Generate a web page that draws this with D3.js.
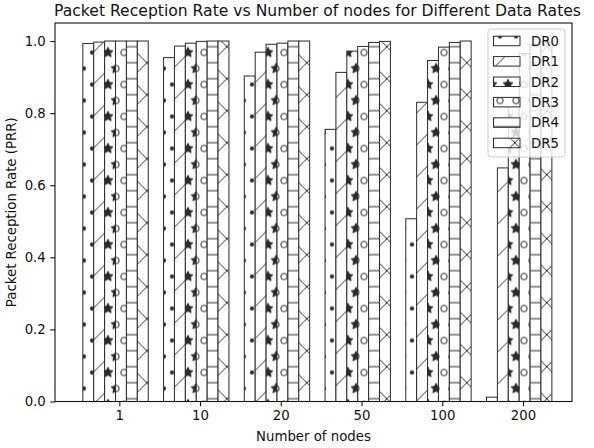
<!DOCTYPE html>
<html><head><meta charset="utf-8">
<script src="https://cdn.jsdelivr.net/npm/d3@7"></script>
<style>body{margin:0;background:#fff}svg{display:block;font-family:"DejaVu Sans",sans-serif}</style>
</head><body><svg id="c" width="594" height="448"></svg>
<script>
const categories = ["1", "10", "20", "50", "100", "200"];
const seriesNames = ["DR0", "DR1", "DR2", "DR3", "DR4", "DR5"];
const dr0 = [0.993, 0.954, 0.903, 0.755, 0.507, 0.012];
const dr1 = [0.997, 0.986, 0.969, 0.913, 0.830, 0.648];
const dr2 = [1.000, 0.994, 0.991, 0.972, 0.946, 0.830];
const dr3 = [1.000, 0.999, 0.994, 0.985, 0.983, 0.965];
const dr4 = [1.000, 1.000, 1.000, 0.996, 0.996, 0.990];
const dr5 = [1.000, 1.000, 1.000, 0.999, 1.000, 0.998];
const yTickValues = [0.0, 0.2, 0.4, 0.6, 0.8, 1.0];
const hatches = ["dot", "slash", "star", "circle", "hline", "cross"];
const titleText = "Packet Reception Rate vs Number of nodes for Different Data Rates";
const xLabelText = "Number of nodes";
const yLabelText = "Packet Reception Rate (PRR)";

const series = [dr0, dr1, dr2, dr3, dr4, dr5];
const svg = d3.select("#c");
const L = 55, R = 572, T = 23, B = 401.5;
const x = d3.scaleLinear().domain([-0.797, 5.607]).range([L, R]);
const y = d3.scaleLinear().domain([0, 1.05]).range([B, T]);
const bw = 0.135, kOff = 2.85;
const ink = "#2a2a2a", txt = "#111";

// hatch patterns (tile = 96px, density 6)
const TT = 96, st = TT / 6;
const defs = svg.append("defs");
function lattice() {
  const pts = [];
  for (let r = 0; r <= 6; r++) {
    if (r % 2 === 0) for (let c = 0; c <= 6; c++) pts.push([c * st, r * st]);
    else for (let c = 0; c < 6; c++) pts.push([(c + 0.5) * st, r * st]);
  }
  return pts;
}
function starPath(cx, cy, ro) {
  const ri = ro * 0.5; let p = "";
  for (let k = 0; k < 10; k++) {
    const a = -Math.PI / 2 + k * Math.PI / 5, rr = k % 2 ? ri : ro;
    p += (k ? "L" : "M") + (cx + rr * Math.cos(a)).toFixed(2) + "," + (cy + rr * Math.sin(a)).toFixed(2);
  }
  return p + "Z";
}
const phase = {dot: [4, 4.5], circle: [4, 4.5], star: [4, 4.5], hline: [0, 14.7], slash: [2.8, 14.7], cross: [2.8, 14.7]};
hatches.forEach(h => {
  const p = defs.append("pattern").attr("id", "h-" + h).attr("patternUnits", "userSpaceOnUse")
    .attr("x", phase[h][0]).attr("y", phase[h][1]).attr("width", TT).attr("height", TT);
  p.append("rect").attr("width", TT).attr("height", TT).attr("fill", "#fff");
  const g = p.append("g").attr("stroke", ink).attr("stroke-width", 1.0).attr("fill", "none");
  if (h === "dot") lattice().forEach(([a, b]) => g.append("circle").attr("cx", a).attr("cy", b).attr("r", 0.1 * st + 0.2).attr("fill", ink).attr("stroke-width", 0.8));
  if (h === "circle") lattice().forEach(([a, b]) => g.append("circle").attr("cx", a).attr("cy", b).attr("r", 0.2 * st));
  if (h === "star") lattice().forEach(([a, b]) => g.append("path").attr("d", starPath(a, b, st / 3)).attr("fill", ink).attr("stroke-width", 0.8));
  if (h === "hline") for (let k = 0; k <= 6; k++) g.append("line").attr("x1", 0).attr("x2", TT).attr("y1", k * st).attr("y2", k * st);
  if (h === "slash" || h === "cross") for (let k = -4; k <= 4; k++) {
    const c = k * TT / 3;
    g.append("line").attr("x1", -10).attr("y1", TT - c + 10).attr("x2", TT + 10).attr("y2", -c - 10);
  }
  if (h === "cross") for (let k = -4; k <= 4; k++) {
    const c = k * TT / 3;
    g.append("line").attr("x1", -10).attr("y1", c - 10).attr("x2", TT + 10).attr("y2", TT + c + 10);
  }
});

// bars
series.forEach((vals, i) => {
  svg.append("g").selectAll("rect").data(vals).join("rect")
    .attr("x", (d, j) => x(j + (i - kOff) * bw - bw / 2))
    .attr("width", x(bw) - x(0))
    .attr("y", d => y(d))
    .attr("height", d => y(0) - y(d))
    .attr("fill", "url(#h-" + hatches[i] + ")")
    .attr("stroke", ink).attr("stroke-width", 1);
});

// frame
svg.append("rect").attr("x", L).attr("y", T).attr("width", R - L).attr("height", B - T)
  .attr("fill", "none").attr("stroke", txt).attr("stroke-width", 1.1);

// axes
const xAxis = d3.axisBottom(x).tickValues(d3.range(categories.length)).tickFormat(i => categories[i]).tickSize(4.7).tickPadding(4.5);
const gx = svg.append("g").attr("transform", `translate(0,${B})`).call(xAxis);
const yAxis = d3.axisLeft(y).tickValues(yTickValues).tickFormat(d3.format(".1f")).tickSize(4.7).tickPadding(4.5);
const gy = svg.append("g").attr("transform", `translate(${L},0)`).call(yAxis);
[gx, gy].forEach(g => {
  g.select(".domain").remove();
  g.selectAll("line").attr("stroke", txt).attr("stroke-width", 1.1);
  g.selectAll("text").attr("font-size", 13.3).attr("fill", txt).attr("font-family", "DejaVu Sans");
});

// titles
svg.append("text").attr("x", (L + R) / 2 + 4).attr("y", 16).attr("text-anchor", "middle")
  .attr("font-size", 15.6).attr("fill", txt).text(titleText);
svg.append("text").attr("x", (L + R) / 2).attr("y", 441).attr("text-anchor", "middle")
  .attr("font-size", 13.3).attr("fill", txt).text(xLabelText);
svg.append("text").attr("transform", `translate(16,${(T + B) / 2}) rotate(-90)`).attr("text-anchor", "middle")
  .attr("font-size", 13.3).attr("fill", txt).text(yLabelText);

// legend
const lg = svg.append("g");
const lx = 488, ly = 29, lw = 77, lh = 128;
lg.append("rect").attr("x", lx).attr("y", ly).attr("width", lw).attr("height", lh).attr("rx", 3)
  .attr("fill", "#fff").attr("fill-opacity", 0.8).attr("stroke", "#ccc").attr("stroke-width", 1);
seriesNames.forEach((n, i) => {
  const cy = 41 + i * 20.4;
  lg.append("rect").attr("x", 493.5).attr("y", cy - 4.8).attr("width", 26.5).attr("height", 9.5)
    .attr("fill", "url(#h-" + hatches[i] + ")").attr("stroke", ink).attr("stroke-width", 1);
  lg.append("text").attr("x", 531).attr("y", cy + 4.8).attr("font-size", 13.3).attr("fill", txt).text(n);
});
</script></body></html>
